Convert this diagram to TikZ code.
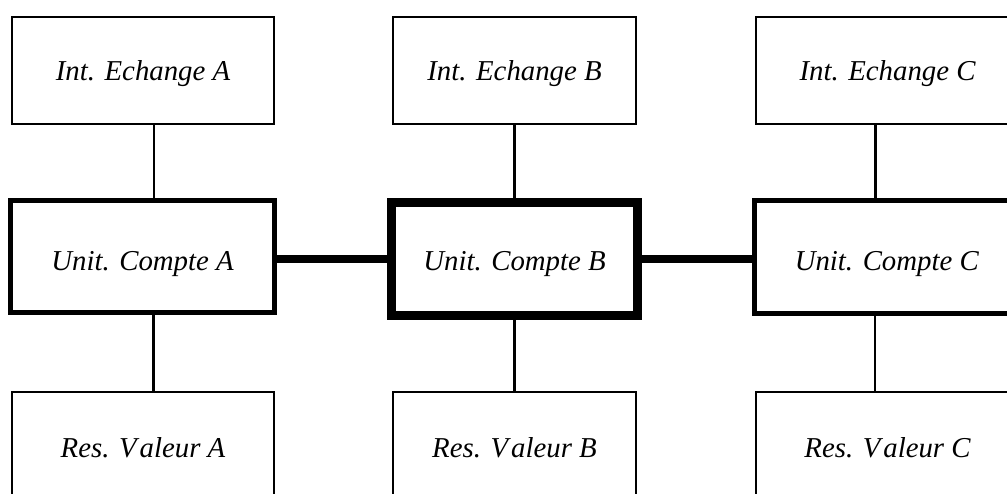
\documentclass[tikz,border=0pt]{standalone}
\usepackage{fontspec}
\setmainfont{Liberation Serif}
\begin{document}
\begin{tikzpicture}[x=0.5pt,y=-0.5pt,
  box/.style={draw, rectangle, inner sep=0pt, text depth=0pt, font=\fontsize{14.4}{17}\selectfont\itshape},
  thinbox/.style={box, line width=1pt},
  midbox/.style={box, line width=2.5pt},
  mainbox/.style={box, line width=4.5pt},
  link/.style={line width=1.2pt},
  thicklink/.style={line width=4pt}]
\useasboundingbox (0,0) rectangle (1007,493);
\clip (0,0) rectangle (1007,493);
% top row
\node[thinbox, text height=9.5pt, minimum width=131pt, minimum height=53.5pt] (ta) at (143,70.5) {Int. Echange A};
\node[thinbox, text height=9.5pt, minimum width=121.5pt, minimum height=53.5pt] (tb) at (514.5,70.5) {Int. Echange B};
\node[thinbox, text height=9.5pt, minimum width=131.5pt, minimum height=53.5pt] (tc) at (887.5,70.5) {Int. Echange C};
% middle row
\node[midbox, text height=13.5pt, minimum width=132pt, minimum height=56pt] (ma) at (142.5,256.5) {Unit. Compte A};
\node[mainbox, text height=11.25pt, minimum width=123pt, minimum height=56.25pt] (mb) at (514.5,258.75) {Unit. Compte B};
\node[midbox, text height=13pt, minimum width=132.25pt, minimum height=56.5pt] (mc) at (886.75,257) {Unit. Compte C};
% bottom row
\node[thinbox, text height=10pt, minimum width=131pt, minimum height=55pt] (ba) at (143,447) {Res. V\kern1.5pt aleur A};
\node[thinbox, text height=10pt, minimum width=121.5pt, minimum height=55pt] (bb) at (514.5,447) {Res. V\kern1.5pt aleur B};
\node[thinbox, text height=10pt, minimum width=131.5pt, minimum height=55pt] (bc) at (887.5,447) {Res. V\kern1.5pt aleur C};
% vertical connectors
\draw[link] ([xshift=5.5pt]ta.south) -- ([xshift=5.5pt]ta.south |- ma.north);
\draw[link] (tb.south) -- (tb.south |- mb.north);
\draw[link] ([xshift=-6pt]tc.south) -- ([xshift=-6pt]tc.south |- mc.north);
\draw[link] ([xshift=5.5pt]ma.south) -- ([xshift=5.5pt]ma.south |- ba.north);
\draw[link] (mb.south) -- (mb.south |- bb.north);
\draw[link] ([xshift=-6pt]mc.south) -- ([xshift=-6pt]mc.south |- bc.north);
% horizontal thick connectors
\draw[thicklink] (ma.east |- mb.west) -- (mb.west);
\draw[thicklink] (mb.east) -- (mb.east -| mc.west);
\end{tikzpicture}
\end{document}
